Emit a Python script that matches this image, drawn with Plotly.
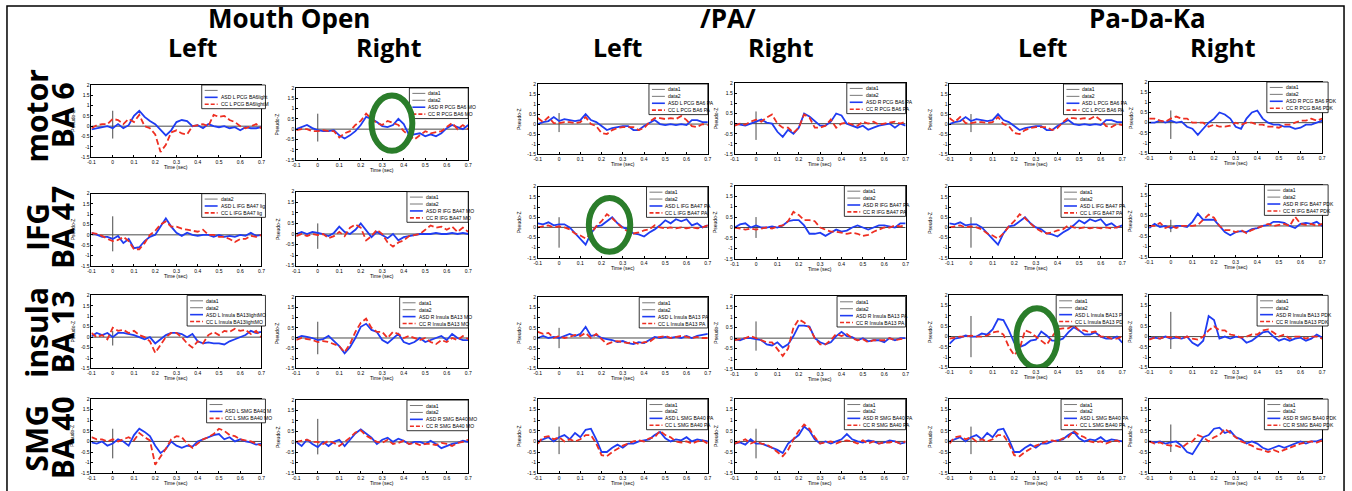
import plotly.graph_objects as go

W, H = 1352, 491

# ---------------- data ----------------
time_s = [-0.1, -0.075, -0.05, -0.025, 0.0, 0.025, 0.05, 0.075, 0.1, 0.125, 0.15,
          0.175, 0.2, 0.225, 0.25, 0.275, 0.3, 0.325, 0.35, 0.375, 0.4, 0.425,
          0.45, 0.475, 0.5, 0.525, 0.55, 0.575, 0.6, 0.625, 0.65, 0.675, 0.7]

tasks = ["Mouth Open", "/PA/", "Pa-Da-Ka"]
sides = ["Left", "Right", "Left", "Right", "Left", "Right"]
region_line1 = ["motor", "IFG", "insula", "SMG"]
region_line2 = ["BA 6", "BA 47", "BA 13", "BA 40"]

x_ticks = [-0.1, 0.0, 0.1, 0.2, 0.3, 0.4, 0.5, 0.6, 0.7]
x_tick_text = ["-0.1", "0", "0.1", "0.2", "0.3", "0.4", "0.5", "0.6", "0.7"]
y_ticks = [-1.5, -1.0, -0.5, 0.0, 0.5, 1.0, 1.5, 2.0]
y_tick_text = ["-1.5", "-1", "-0.5", "0", "0.5", "1", "1.5", "2"]

# row 1 : motor BA 6
motor_mo_l_asd = [-0.15, -0.1, -0.05, 0.0, -0.1, 0.1, -0.1, 0.05, 0.5, 0.75, 0.45, 0.25, 0.1, -0.2, -0.45, -0.2, 0.2, 0.3, 0.25, 0.0, 0.05, -0.1, 0.1, 0.0, -0.05, 0.0, -0.1, -0.05, -0.2, -0.05, -0.1, -0.1, -0.05]
motor_mo_l_cc = [-0.1, 0.05, 0.1, 0.1, 0.35, 0.3, 0.1, 0.35, 0.2, 0.55, 0.0, -0.1, -0.4, -1.25, -0.9, -0.3, -0.2, -0.35, -0.4, 0.0, 0.05, 0.1, 0.0, 0.55, 0.45, 0.5, 0.3, 0.2, 0.0, -0.1, 0.0, 0.1, -0.1]
motor_mo_r_asd = [0.0, 0.1, 0.2, 0.05, -0.05, -0.1, -0.1, -0.05, -0.3, -0.45, -0.3, -0.1, 0.2, 0.6, 0.5, 0.35, 0.15, 0.1, 0.2, 0.5, 0.25, -0.3, -0.25, -0.2, -0.35, -0.25, -0.35, -0.2, 0.05, 0.2, 0.1, 0.0, 0.2]
motor_mo_r_cc = [-0.05, 0.0, 0.0, -0.1, -0.1, -0.05, -0.1, -0.1, -0.4, -0.2, -0.1, 0.2, 0.4, 0.75, 0.5, 0.3, 0.2, 0.4, 0.3, 0.2, -0.1, -0.3, -0.5, -0.3, -0.1, -0.2, -0.15, -0.1, 0.1, 0.3, 0.0, 0.2, 0.0]
motor_pa_l_asd = [0.0, 0.1, 0.15, 0.35, 0.15, 0.25, 0.2, 0.15, 0.2, 0.5, 0.2, 0.1, -0.1, -0.3, -0.2, -0.15, -0.1, -0.1, -0.3, -0.3, -0.1, 0.05, 0.2, 0.0, -0.05, 0.0, -0.05, 0.0, -0.05, 0.2, 0.2, 0.1, 0.1]
motor_pa_l_cc = [0.3, 0.1, 0.35, 0.05, 0.05, 0.1, 0.1, 0.05, 0.1, 0.35, 0.0, -0.1, -0.45, -0.5, -0.3, -0.2, -0.15, -0.15, -0.15, -0.3, -0.2, 0.1, 0.3, 0.3, 0.25, 0.3, 0.25, 0.4, 0.2, -0.1, -0.15, 0.0, -0.05]
motor_pa_r_asd = [0.0, -0.05, -0.1, 0.0, 0.1, 0.2, 0.05, 0.0, -0.4, -0.65, -0.3, -0.5, -0.2, 0.5, 0.35, 0.1, -0.1, -0.1, 0.1, 0.5, 0.4, 0.0, -0.1, -0.2, -0.1, -0.3, -0.2, -0.1, -0.05, 0.0, -0.2, 0.0, -0.1]
motor_pa_r_cc = [-0.1, 0.0, -0.05, 0.1, 0.2, 0.1, 0.3, 0.45, 0.0, -0.2, -0.2, -0.45, -0.2, 0.45, 0.3, -0.2, -0.2, -0.1, 0.2, -0.2, 0.0, 0.05, -0.05, -0.1, 0.1, 0.0, 0.1, -0.05, 0.0, 0.05, 0.1, 0.0, 0.1]
motor_pdk_l_asd = [0.0, 0.1, 0.15, 0.35, 0.15, 0.25, 0.2, 0.15, 0.2, 0.5, 0.2, 0.1, -0.1, -0.3, -0.2, -0.15, -0.1, -0.1, -0.3, -0.3, -0.1, 0.05, 0.2, 0.0, -0.05, 0.0, -0.05, 0.0, -0.05, 0.2, 0.2, 0.1, 0.1]
motor_pdk_l_cc = [0.3, 0.1, 0.35, 0.05, 0.05, 0.1, 0.1, 0.05, 0.1, 0.35, 0.0, -0.1, -0.45, -0.5, -0.3, -0.2, -0.15, -0.15, -0.15, -0.3, -0.2, 0.1, 0.3, 0.3, 0.25, 0.3, 0.25, 0.4, 0.2, -0.1, -0.15, 0.0, -0.05]
motor_pdk_r_asd = [0.0, 0.0, 0.1, 0.0, 0.1, 0.0, 0.05, -0.2, -0.3, -0.6, -0.3, 0.0, 0.2, 0.5, 0.4, 0.2, -0.2, -0.3, 0.2, 0.5, 0.6, 0.2, 0.0, -0.1, -0.1, -0.2, -0.2, -0.3, -0.25, -0.1, -0.1, 0.0, 0.1]
motor_pdk_r_cc = [0.2, 0.2, 0.1, 0.05, 0.2, 0.3, 0.2, 0.2, 0.0, 0.0, 0.0, -0.2, -0.1, -0.2, -0.2, -0.15, 0.0, -0.1, 0.0, 0.0, -0.1, -0.1, -0.2, -0.2, -0.25, -0.1, -0.1, 0.0, 0.1, 0.1, 0.2, 0.1, 0.2]

# row 2 : IFG BA 47
ifg_mo_l_asd = [0.1, 0.0, -0.1, -0.1, -0.2, -0.05, -0.4, -0.2, -0.65, -0.6, -0.3, -0.1, 0.0, 0.4, 0.8, 0.4, 0.1, -0.05, 0.1, 0.0, -0.05, 0.0, 0.0, -0.1, 0.0, -0.1, -0.05, -0.1, 0.0, -0.05, 0.1, -0.05, 0.0]
ifg_mo_l_cc = [0.1, 0.05, -0.05, -0.2, -0.3, -0.25, -0.1, -0.3, -0.7, -0.7, -0.4, 0.0, 0.2, 0.5, 0.65, 0.4, 0.4, 0.3, 0.25, 0.2, 0.15, 0.25, 0.0, 0.0, -0.1, -0.1, -0.2, -0.35, -0.2, -0.2, -0.05, -0.1, 0.0]
ifg_mo_r_asd = [0.0, 0.1, 0.0, 0.1, 0.05, 0.0, -0.1, 0.05, 0.35, 0.1, 0.0, 0.2, 0.5, 0.2, -0.15, 0.1, -0.05, -0.2, 0.0, -0.3, -0.15, -0.1, -0.05, 0.0, 0.0, 0.0, 0.05, 0.0, 0.0, 0.05, 0.0, 0.05, 0.0]
ifg_mo_r_cc = [-0.1, 0.0, -0.1, 0.0, -0.05, 0.0, -0.2, -0.1, 0.1, -0.1, 0.3, 0.45, 0.3, -0.3, -0.1, 0.2, 0.0, -0.4, -0.6, -0.4, -0.3, -0.1, -0.05, 0.0, 0.2, 0.4, 0.3, 0.35, 0.2, 0.35, 0.1, 0.3, 0.1]
ifg_pa_l_asd = [0.2, 0.15, 0.25, 0.1, 0.15, 0.15, 0.0, -0.3, -0.6, -0.85, -0.3, 0.05, 0.1, 0.3, 0.5, 0.2, 0.0, -0.1, -0.3, -0.35, -0.45, -0.25, -0.1, 0.1, 0.35, 0.2, 0.4, 0.3, 0.4, 0.1, 0.2, 0.0, 0.1]
ifg_pa_l_cc = [0.0, 0.05, 0.1, 0.0, 0.05, 0.0, -0.1, -0.3, -0.4, -0.55, -0.3, 0.05, 0.3, 0.65, 0.45, 0.2, -0.05, -0.2, -0.3, -0.25, -0.15, -0.1, 0.1, 0.0, -0.05, 0.0, -0.05, 0.0, -0.05, 0.0, -0.05, 0.0, 0.1]
ifg_pa_r_asd = [0.0, 0.15, 0.2, 0.0, 0.1, 0.0, 0.0, 0.05, 0.0, 0.1, 0.3, 0.35, 0.35, 0.1, -0.3, -0.3, -0.25, -0.4, -0.25, -0.1, -0.2, -0.15, 0.0, 0.1, 0.0, -0.1, 0.0, 0.1, 0.1, 0.05, 0.0, 0.2, 0.2]
ifg_pa_r_cc = [0.0, -0.05, -0.1, -0.05, -0.1, -0.05, 0.0, -0.05, 0.05, 0.1, 0.3, 0.75, 0.6, 0.35, 0.35, 0.3, 0.0, -0.1, -0.2, -0.2, -0.25, -0.3, -0.25, -0.3, -0.4, -0.35, -0.2, -0.1, 0.0, 0.0, 0.1, 0.05, 0.1]
ifg_pdk_l_asd = [0.2, 0.15, 0.25, 0.1, 0.15, 0.15, 0.0, -0.3, -0.6, -0.85, -0.3, 0.05, 0.1, 0.3, 0.5, 0.2, 0.0, -0.1, -0.3, -0.35, -0.45, -0.25, -0.1, 0.1, 0.35, 0.2, 0.4, 0.3, 0.4, 0.1, 0.2, 0.0, 0.1]
ifg_pdk_l_cc = [0.0, 0.05, 0.1, 0.0, 0.05, 0.0, -0.1, -0.3, -0.4, -0.55, -0.3, 0.05, 0.3, 0.65, 0.45, 0.2, -0.05, -0.2, -0.3, -0.25, -0.15, -0.1, 0.1, 0.0, -0.05, 0.0, -0.05, 0.0, -0.05, 0.0, -0.05, 0.0, 0.1]
ifg_pdk_r_asd = [-0.1, 0.1, -0.05, 0.0, -0.1, 0.0, 0.0, -0.05, 0.2, 0.6, 0.3, 0.3, 0.3, 0.0, -0.3, -0.45, -0.3, -0.25, -0.3, -0.15, -0.1, 0.0, 0.05, 0.2, 0.2, 0.15, 0.0, -0.1, 0.1, 0.15, 0.1, 0.2, 0.0]
ifg_pdk_r_cc = [0.0, 0.0, 0.15, -0.1, 0.0, -0.1, 0.0, 0.0, 0.0, 0.05, 0.3, 0.55, 0.4, 0.0, -0.2, -0.2, -0.3, -0.2, -0.35, -0.2, -0.1, 0.0, 0.1, 0.0, 0.05, 0.1, 0.0, 0.45, 0.1, 0.05, 0.1, 0.0, 0.1]

# row 3 : insula BA 13
insula_mo_l_asd = [0.05, 0.2, 0.1, 0.2, 0.0, 0.2, 0.2, 0.15, 0.1, 0.0, -0.1, 0.0, -0.3, -0.1, 0.1, 0.2, 0.2, 0.15, 0.0, 0.15, -0.2, -0.3, -0.25, -0.3, -0.3, -0.35, -0.2, -0.1, 0.0, 0.1, 0.3, 0.2, 0.25]
insula_mo_l_cc = [0.2, 0.0, 0.1, -0.1, 0.45, 0.3, 0.35, 0.2, 0.3, 0.1, 0.0, -0.2, -0.75, -0.4, 0.0, 0.2, 0.2, 0.0, -0.3, -0.5, -0.2, -0.3, 0.1, 0.25, 0.1, 0.3, 0.25, 0.4, 0.3, 0.35, 0.15, 0.3, 0.0]
insula_mo_r_asd = [0.0, 0.1, 0.05, 0.0, -0.1, -0.05, 0.1, -0.15, -0.4, -0.75, -0.45, 0.0, 0.55, 0.7, 0.4, 0.3, -0.1, -0.25, 0.0, 0.2, -0.2, -0.3, -0.2, 0.0, -0.2, -0.1, 0.0, 0.1, -0.1, 0.2, 0.0, -0.1, -0.1]
insula_mo_r_cc = [-0.1, 0.0, -0.05, -0.1, -0.2, -0.15, -0.2, -0.3, -0.4, -0.7, -0.3, 0.3, 0.75, 0.95, 0.5, 0.3, 0.3, 0.0, 0.3, 0.2, 0.0, 0.1, 0.0, -0.1, 0.0, -0.2, -0.3, -0.1, -0.2, 0.0, -0.1, 0.1, -0.05]
insula_pa_l_asd = [0.0, 0.1, 0.0, 0.05, 0.0, 0.1, 0.2, 0.1, 0.2, 0.55, 0.1, 0.15, 0.0, -0.05, -0.1, -0.2, -0.15, -0.25, -0.3, -0.2, -0.25, -0.1, 0.05, 0.0, 0.05, 0.0, 0.05, 0.0, 0.1, 0.0, 0.1, 0.15, 0.2]
insula_pa_l_cc = [0.3, 0.2, 0.25, 0.0, 0.1, 0.0, 0.05, 0.15, 0.1, 0.25, 0.0, 0.2, -0.05, -0.3, -0.2, -0.15, -0.2, -0.25, -0.2, -0.3, -0.2, -0.2, 0.0, 0.05, 0.1, 0.0, 0.05, 0.1, 0.05, 0.0, 0.05, 0.0, 0.0]
insula_pa_r_asd = [-0.05, -0.1, 0.0, 0.0, -0.05, -0.1, -0.3, -0.35, -0.2, -0.45, -0.3, 0.1, 0.6, 0.6, 0.55, 0.0, -0.2, -0.3, -0.2, 0.1, 0.3, 0.1, 0.05, -0.1, 0.0, -0.15, -0.1, -0.1, -0.2, 0.0, -0.1, 0.0, 0.0]
insula_pa_r_cc = [-0.1, -0.05, 0.0, 0.1, 0.0, -0.1, -0.2, -0.2, -0.5, -0.85, -0.5, 0.5, 0.9, 0.75, 0.5, 0.0, -0.3, -0.3, -0.1, 0.2, 0.1, 0.2, 0.0, -0.1, -0.05, -0.2, -0.1, -0.1, -0.1, 0.0, -0.1, -0.05, 0.0]
insula_pdk_l_asd = [-0.35, -0.1, -0.05, 0.05, 0.0, 0.0, 0.15, 0.1, 0.35, 0.85, 0.8, 0.3, -0.3, -0.5, -0.4, -0.2, -0.15, 0.25, 0.05, -0.2, -0.2, -0.1, 0.2, 0.45, 0.3, 0.1, 0.1, 0.2, 0.0, -0.1, -0.1, 0.0, -0.3]
insula_pdk_l_cc = [-0.1, -0.05, 0.0, 0.0, 0.05, 0.0, 0.0, 0.05, 0.2, 0.25, 0.1, -0.5, -0.9, -0.6, 0.3, 0.2, 0.0, -0.2, -0.4, 0.0, 0.35, 0.4, 0.4, 0.55, 0.3, 0.3, 0.2, 0.25, 0.0, 0.0, -0.1, -0.1, 0.0]
insula_pdk_r_asd = [-0.1, -0.05, -0.1, 0.0, -0.1, -0.05, -0.1, 0.0, -0.3, -0.45, -0.2, 1.0, 0.8, -0.1, 0.0, -0.1, 0.0, -0.05, -0.3, -0.2, 0.0, 0.2, 0.25, 0.0, -0.2, -0.1, -0.2, -0.1, -0.05, -0.2, -0.1, 0.1, -0.05]
insula_pdk_r_cc = [-0.15, -0.05, -0.1, 0.0, -0.05, 0.0, -0.1, 0.0, -0.1, -0.15, 0.0, 0.3, 0.5, 0.3, 0.3, 0.1, 0.05, -0.05, 0.0, 0.1, 0.1, 0.3, 0.35, 0.2, 0.0, 0.1, -0.1, 0.0, 0.0, -0.1, 0.0, 0.0, -0.1]

# row 4 : SMG BA 40
smg_mo_l_asd = [-0.05, -0.1, 0.0, -0.2, -0.1, 0.1, 0.0, -0.2, 0.3, 0.6, 0.45, 0.25, -0.2, -0.55, -0.35, 0.0, -0.2, -0.3, -0.2, -0.25, 0.0, 0.1, 0.2, 0.3, 0.35, 0.1, 0.2, 0.0, 0.1, 0.0, -0.05, -0.15, -0.1]
smg_mo_l_cc = [0.2, 0.1, 0.1, 0.0, 0.1, 0.0, 0.1, 0.2, 0.05, 0.4, 0.2, 0.05, -1.1, -0.75, -0.35, 0.1, 0.25, 0.2, -0.1, -0.3, -0.1, 0.1, 0.2, 0.35, 0.6, 0.5, 0.3, 0.25, 0.1, 0.05, 0.0, -0.1, -0.2]
smg_mo_r_asd = [0.0, -0.2, 0.1, -0.1, -0.25, 0.0, -0.2, 0.0, 0.1, -0.2, 0.1, 0.4, 0.6, 0.4, 0.2, -0.1, 0.1, 0.2, 0.0, 0.15, 0.05, -0.1, 0.0, 0.0, -0.1, 0.05, -0.1, -0.3, -0.2, -0.1, -0.05, 0.05, 0.0]
smg_mo_r_cc = [0.0, 0.05, 0.1, 0.0, 0.0, -0.1, 0.05, -0.05, -0.2, 0.0, 0.2, 0.45, 0.55, 0.3, 0.15, 0.0, -0.05, 0.1, -0.1, -0.05, 0.05, -0.1, -0.05, -0.15, -0.1, -0.1, -0.15, -0.05, -0.1, -0.2, -0.05, 0.0, 0.1]
smg_pa_l_asd = [0.0, 0.1, 0.2, 0.0, 0.2, 0.3, 0.1, 0.4, 0.2, 0.55, 0.6, 0.1, -0.5, -0.5, -0.3, -0.15, -0.3, -0.1, -0.1, 0.0, 0.05, 0.1, 0.3, 0.45, 0.15, 0.0, 0.1, 0.05, 0.2, 0.0, 0.1, 0.05, 0.0]
smg_pa_l_cc = [-0.1, 0.2, 0.25, 0.1, 0.2, 0.0, 0.1, 0.0, 0.1, 0.3, 0.3, -0.1, -0.65, -0.7, -0.5, -0.35, -0.2, -0.1, 0.0, 0.05, 0.0, 0.15, 0.2, 0.5, 0.3, 0.2, 0.0, -0.05, 0.0, -0.1, 0.0, 0.05, -0.1]
smg_pa_r_asd = [-0.1, -0.05, -0.15, 0.1, -0.1, -0.1, -0.2, -0.3, -0.4, -0.55, -0.1, 0.1, 0.3, 0.7, 0.5, 0.1, -0.1, 0.0, -0.1, 0.0, 0.1, 0.35, 0.1, 0.0, -0.05, 0.05, 0.0, -0.1, -0.05, 0.05, 0.0, -0.1, -0.05]
smg_pa_r_cc = [-0.1, 0.0, 0.1, -0.1, 0.0, -0.1, -0.15, -0.3, -0.5, -0.7, -0.4, 0.1, 0.5, 0.8, 0.6, 0.2, -0.1, -0.05, 0.0, -0.1, 0.0, 0.05, 0.0, -0.1, 0.05, -0.1, 0.0, -0.1, -0.05, -0.05, 0.0, -0.1, 0.0]
smg_pdk_l_asd = [0.0, 0.1, 0.2, 0.0, 0.2, 0.3, 0.1, 0.4, 0.2, 0.55, 0.6, 0.1, -0.5, -0.5, -0.3, -0.15, -0.3, -0.1, -0.1, 0.0, 0.05, 0.1, 0.3, 0.45, 0.15, 0.0, 0.1, 0.05, 0.2, 0.0, 0.1, 0.05, 0.0]
smg_pdk_l_cc = [-0.1, 0.2, 0.25, 0.1, 0.2, 0.0, 0.1, 0.0, 0.1, 0.3, 0.3, -0.1, -0.65, -0.7, -0.5, -0.35, -0.2, -0.1, 0.0, 0.05, 0.0, 0.15, 0.2, 0.5, 0.3, 0.2, 0.0, -0.05, 0.0, -0.1, 0.0, 0.05, -0.1]
smg_pdk_r_asd = [0.0, -0.05, 0.0, -0.1, -0.05, 0.0, -0.2, -0.5, -0.6, -0.2, 0.2, 0.3, 0.6, 0.65, 0.4, 0.5, 0.2, 0.1, -0.1, 0.0, -0.1, -0.3, -0.4, -0.3, -0.2, -0.3, -0.2, -0.1, 0.0, -0.1, 0.0, 0.0, 0.1]
smg_pdk_r_cc = [0.0, -0.1, -0.05, -0.15, -0.2, -0.2, -0.3, -0.1, 0.0, 0.3, 0.2, 0.0, 0.2, 0.3, 0.6, 0.4, 0.2, 0.0, -0.1, -0.2, -0.35, -0.4, -0.5, -0.4, -0.5, -0.4, -0.3, -0.2, -0.1, -0.05, 0.0, -0.05, 0.05]

# stimulus-onset marker (data2) extent per panel
stim_lo = [[-0.6, -0.6, -0.4, -0.8, -0.4, -0.8],
           [-0.8, -0.7, -1.0, -0.5, -1.0, -0.3],
           [-0.4, -0.8, -0.5, -0.6, -1.0, -0.6],
           [-0.8, -0.6, -0.6, -0.8, -0.6, -0.5]]
stim_hi = [[0.75, 0.75, 0.55, 0.6, 0.5, 0.6],
           [0.9, 0.5, 0.5, 0.5, 0.5, 0.3],
           [0.3, 0.8, 0.5, 0.8, 1.0, 1.2],
           [0.6, 1.1, 0.7, 0.6, 0.7, 0.8]]

asd_labels = [
    ["ASD L PCG BA6light", "ASD R PCG BA6 MO", "ASD L PCG BA6 PA", "ASD R PCG BA6 PA", "ASD L PCG BA6 PA", "ASD R PCG BA6 PDK"],
    ["ASD L IFG BA47 lig", "ASD R IFG BA47 MO", "ASD L IFG BA47 PA", "ASD R IFG BA47 PA", "ASD L IFG BA47 PA", "ASD R IFG BA47 PDK"],
    ["ASD L Insula BA13lightMO", "ASD R Insula BA13 MO", "ASD L Insula BA13 PA", "ASD R Insula BA13 PA", "ASD L Insula BA13 P", "ASD R Insula BA13 PDK"],
    ["ASD L SMG BA40 M", "ASD R SMG BA40 MO", "ASD L SMG BA40 PA", "ASD R SMG BA40 PA", "ASD L SMG BA40 PA", "ASD R SMG BA40 PDK"],
]
cc_labels = [
    ["CC L PCG BA6lightM", "CC R PCG BA6 MO", "CC L PCG BA6 PA", "CC R PCG BA6 PA", "CC L PCG BA6 PA", "CC R PCG BA6 PDK"],
    ["CC L IFG BA47 lig", "CC R IFG BA47 MO", "CC L IFG BA47 PA", "CC R IFG BA47 PA", "CC L IFG BA47 PA", "CC R IFG BA47 PDK"],
    ["CC L Insula BA13lightMO", "CC R Insula BA13 MO", "CC L Insula BA13 PA", "CC R Insula BA13 PA", "CC L Insula BA13 PD", "CC R Insula BA13 PDK"],
    ["CC L SMG BA40 MO", "CC R SMG BA40 MO", "CC L SMG BA40 PA", "CC R SMG BA40 PA", "CC L SMG BA40 PA", "CC R SMG BA40 PDK"],
]
ref_labels_default = ["data1", "data2"]
ref_labels_special = {(0, 0): [""], (1, 0): ["data2"], (3, 0): [""]}

asd_grid = [
    [motor_mo_l_asd, motor_mo_r_asd, motor_pa_l_asd, motor_pa_r_asd, motor_pdk_l_asd, motor_pdk_r_asd],
    [ifg_mo_l_asd, ifg_mo_r_asd, ifg_pa_l_asd, ifg_pa_r_asd, ifg_pdk_l_asd, ifg_pdk_r_asd],
    [insula_mo_l_asd, insula_mo_r_asd, insula_pa_l_asd, insula_pa_r_asd, insula_pdk_l_asd, insula_pdk_r_asd],
    [smg_mo_l_asd, smg_mo_r_asd, smg_pa_l_asd, smg_pa_r_asd, smg_pdk_l_asd, smg_pdk_r_asd],
]
cc_grid = [
    [motor_mo_l_cc, motor_mo_r_cc, motor_pa_l_cc, motor_pa_r_cc, motor_pdk_l_cc, motor_pdk_r_cc],
    [ifg_mo_l_cc, ifg_mo_r_cc, ifg_pa_l_cc, ifg_pa_r_cc, ifg_pdk_l_cc, ifg_pdk_r_cc],
    [insula_mo_l_cc, insula_mo_r_cc, insula_pa_l_cc, insula_pa_r_cc, insula_pdk_l_cc, insula_pdk_r_cc],
    [smg_mo_l_cc, smg_mo_r_cc, smg_pa_l_cc, smg_pa_r_cc, smg_pdk_l_cc, smg_pdk_r_cc],
]

# highlighted windows (row, col, t0, t1, z0, z1)
highlights = [(0, 1, 0.25, 0.44, -1.05, 1.63),
              (1, 2, 0.14, 0.335, -1.2, 1.45),
              (2, 4, 0.21, 0.40, -1.5, 1.38)]

# ---------------- layout geometry (pixels) ----------------
col_x = [(88, 259), (294, 467), (537, 708), (735, 907), (951, 1125), (1152, 1326)]
row_top = [[83, 86, 82, 81, 82, 80],
           [193, 191, 186, 185, 186, 184],
           [296, 298, 298, 297, 296, 296],
           [401, 402, 401, 401, 401, 401]]
row_bot = [[156, 159, 153, 153, 153, 152],
           [266, 266, 258, 259, 258, 257],
           [370, 370, 370, 371, 369, 369],
           [476, 476, 476, 476, 476, 476]]
legend_overhang = [4, 0, 0, 0, 0, 6]

BLUE = "#1f3cf2"
RED = "#ee2f22"
GREEN = "#2a7d2a"
TICKFONT = dict(family="Liberation Sans", size=5, color="black")


def fx(px):
    return px / W


def fy(py):
    return 1 - py / H


fig = go.Figure()
shapes = []
annotations = []

for r in range(4):
    for c in range(6):
        k = r * 6 + c + 1
        xs = "x" if k == 1 else f"x{k}"
        ys = "y" if k == 1 else f"y{k}"
        L, R = col_x[c]
        T, B = row_top[r][c], row_bot[r][c]

        fig.add_trace(go.Scatter(x=[x_ticks[0], x_ticks[-1]], y=[0, 0], mode="lines",
                                 line=dict(color="#4a4a4a", width=1), name="data1",
                                 showlegend=False, xaxis=xs, yaxis=ys, hoverinfo="skip"))
        fig.add_trace(go.Scatter(x=[0, 0], y=[stim_lo[r][c], stim_hi[r][c]], mode="lines",
                                 line=dict(color="#4a4a4a", width=1), name="data2",
                                 showlegend=False, xaxis=xs, yaxis=ys, hoverinfo="skip"))
        fig.add_trace(go.Scatter(x=time_s, y=asd_grid[r][c], mode="lines",
                                 line=dict(color=BLUE, width=1.8), name=asd_labels[r][c],
                                 showlegend=False, xaxis=xs, yaxis=ys))
        fig.add_trace(go.Scatter(x=time_s, y=cc_grid[r][c], mode="lines",
                                 line=dict(color=RED, width=1.8, dash="6px,3px"), name=cc_labels[r][c],
                                 showlegend=False, xaxis=xs, yaxis=ys))

        axis_common = dict(showline=True, mirror=True, linecolor="black", linewidth=0.8,
                           ticks="inside", ticklen=2, tickwidth=0.6, tickcolor="black",
                           showgrid=False, zeroline=False, tickfont=TICKFONT, fixedrange=True)
        fig.layout[f"xaxis{k}"] = dict(domain=[fx(L), fx(R)], range=[-0.1, 0.7], anchor=ys,
                                       tickvals=x_ticks, ticktext=x_tick_text, **axis_common)
        fig.layout[f"yaxis{k}"] = dict(domain=[fy(B), fy(T)], range=[-1.5, 2.0], anchor=xs,
                                       tickvals=y_ticks, ticktext=y_tick_text, **axis_common)

        # axis titles
        annotations.append(dict(x=fx((L + R) / 2), y=fy(B + 10), xref="paper", yref="paper",
                                text="Time (sec)", showarrow=False, font=TICKFONT,
                                xanchor="center", yanchor="middle"))
        annotations.append(dict(x=fx(L - 19), y=fy((T + B) / 2), xref="paper", yref="paper",
                                text="Pseudo-Z", showarrow=False, font=TICKFONT, textangle=-90,
                                xanchor="center", yanchor="middle"))

        # legend box
        refs = ref_labels_special.get((r, c), ref_labels_default)
        entries = [(lab, "#555555", "solid") for lab in refs]
        entries += [(asd_labels[r][c], BLUE, "solid"), (cc_labels[r][c], RED, "dash")]
        maxlen = max(len(e[0]) for e in entries)
        lw = 20 + 2.45 * maxlen
        rh = 7.0
        lr = R + legend_overhang[c]
        ll = lr - lw
        lt = T
        lb = T + rh * len(entries) + 3
        shapes.append(dict(type="rect", xref="paper", yref="paper", x0=fx(ll), x1=fx(lr),
                           y0=fy(lb), y1=fy(lt), line=dict(color="black", width=0.8),
                           fillcolor="white", layer="above"))
        for i, (lab, col, dsh) in enumerate(entries):
            yy = lt + 2 + rh * i + rh / 2
            shapes.append(dict(type="line", xref="paper", yref="paper", x0=fx(ll + 3), x1=fx(ll + 16),
                               y0=fy(yy), y1=fy(yy), layer="above",
                               line=dict(color=col, width=1.6 if col != "#555555" else 0.8,
                                         dash="4px,2px" if dsh == "dash" else "solid")))
            if lab:
                annotations.append(dict(x=fx(ll + 17), y=fy(yy), xref="paper", yref="paper",
                                        text=lab, showarrow=False, font=TICKFONT,
                                        xanchor="left", yanchor="middle"))

# highlight ellipses
for (r, c, t0, t1, z0, z1) in highlights:
    k = r * 6 + c + 1
    shapes.append(dict(type="circle", xref=f"x{k}", yref=f"y{k}", x0=t0, x1=t1, y0=z0, y1=z1,
                       line=dict(color=GREEN, width=6), layer="above"))

# outer frame
shapes.append(dict(type="rect", xref="paper", yref="paper", x0=fx(3), x1=fx(1348), y0=fy(495), y1=fy(3),
                   line=dict(color="black", width=1.5), layer="above"))

# headings
TITLEFONT = dict(family="Open Sans", size=26, color="black")
SIDEFONT = dict(family="Open Sans", size=25, color="black")
task_x = [287, 728, 1150]
for name, xp in zip(tasks, task_x):
    annotations.append(dict(x=fx(xp), y=fy(15), xref="paper", yref="paper", text=f"<b>{name}</b>",
                            showarrow=False, font=TITLEFONT, xanchor="center", yanchor="middle"))
side_x = [190, 387, 618, 782, 1045, 1226]
for name, xp in zip(sides, side_x):
    annotations.append(dict(x=fx(xp), y=fy(45), xref="paper", yref="paper", text=f"<b>{name}</b>",
                            showarrow=False, font=SIDEFONT, xanchor="center", yanchor="middle"))

ROWFONT = dict(family="Open Sans", size=30, color="black")
row_center = [114, 227, 333, 440]
for r in range(4):
    annotations.append(dict(x=fx(33), y=fy(row_center[r]), xref="paper", yref="paper",
                            text=f"<b>{region_line1[r]}</b>", showarrow=False, font=ROWFONT,
                            textangle=-90, xanchor="center", yanchor="middle"))
    annotations.append(dict(x=fx(59), y=fy(row_center[r]), xref="paper", yref="paper",
                            text=f"<b>{region_line2[r]}</b>", showarrow=False, font=ROWFONT,
                            textangle=-90, xanchor="center", yanchor="middle"))

fig.update_layout(width=W, height=H, margin=dict(l=0, r=0, t=0, b=0),
                  paper_bgcolor="white", plot_bgcolor="white", showlegend=False,
                  shapes=shapes, annotations=annotations)

fig.write_html("out.html", config={"displayModeBar": False},
               post_script="document.body.style.margin='0';document.body.style.padding='0';")
